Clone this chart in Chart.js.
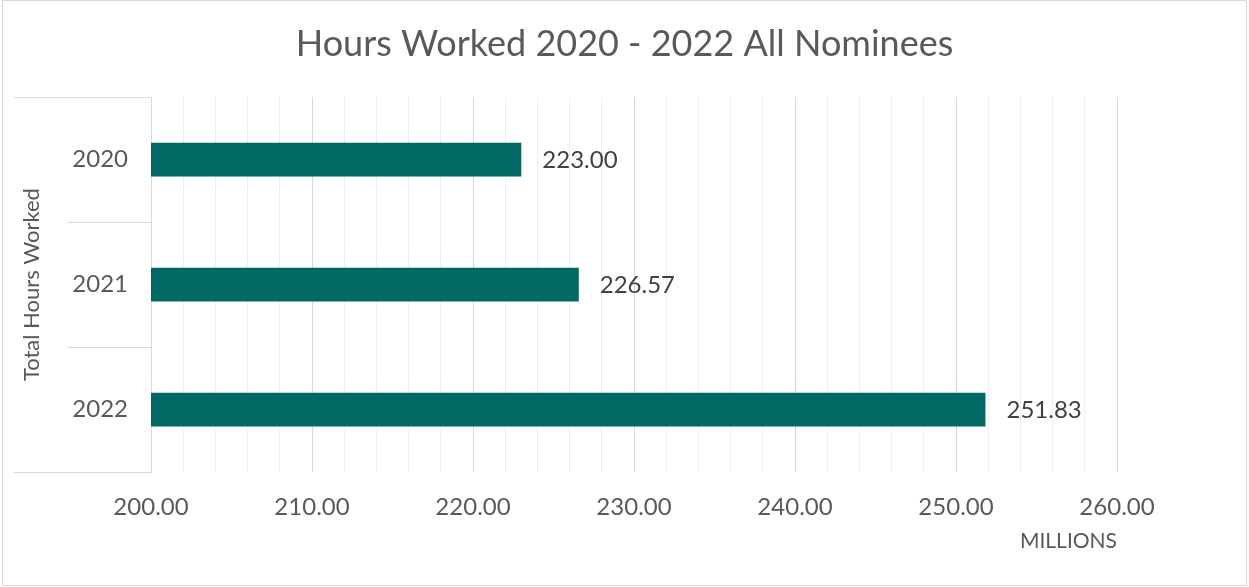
<!DOCTYPE html>
<html>
<head>
<meta charset="utf-8">
<script src="https://cdn.jsdelivr.net/npm/chart.js@4.4.1/dist/chart.umd.min.js"></script>
<style>
  html, body { margin: 0; padding: 0; background: #fff; }
  #wrap { width: 1249px; height: 587px; }
</style>
</head>
<body>
<div id="wrap"><canvas id="chart"></canvas></div>
<script>
// --- data ---
const years = ['2020', '2021', '2022'];
const hoursWorked = [223.00, 226.57, 251.83]; // millions
const xMin = 200;
const xMax = 260;
const xStep = 2;

const FONT = 'Lato, "Open Sans", sans-serif';
const TEXT = '#595959';
const BAR = '#016864';

// value labels to the right of each bar
const valueLabels = {
  id: 'valueLabels',
  afterDatasetsDraw(chart) {
    const ctx = chart.ctx;
    const meta = chart.getDatasetMeta(0);
    ctx.save();
    ctx.font = '24px ' + FONT;
    ctx.fillStyle = '#404040';
    ctx.textAlign = 'left';
    ctx.textBaseline = 'middle';
    meta.data.forEach((bar, i) => {
      ctx.fillText(hoursWorked[i].toFixed(2), bar.x + 21, bar.y + 1);
    });
    ctx.restore();
  }
};

// category box lines on the left and outer frame
const frame = {
  id: 'frame',
  afterDraw(chart) {
    const ctx = chart.ctx;
    const area = chart.chartArea;
    const y = chart.scales.y;
    ctx.save();
    ctx.strokeStyle = '#d9d9d9';
    ctx.lineWidth = 1;
    ctx.beginPath();
    // top and bottom of label box
    ctx.moveTo(14, area.top + 0.5); ctx.lineTo(area.left, area.top + 0.5);
    ctx.moveTo(14, area.bottom + 0.5); ctx.lineTo(area.left, area.bottom + 0.5);
    // separators between categories
    for (let i = 1; i < years.length; i++) {
      const py = Math.round((y.getPixelForValue(i - 1) + y.getPixelForValue(i)) / 2) + 0.5;
      ctx.moveTo(68, py); ctx.lineTo(area.left, py);
    }
    ctx.stroke();
    // outer chart border
    ctx.strokeRect(2.5, 0.5, 1244, 585);
    ctx.restore();
  }
};

new Chart(document.getElementById('chart'), {
  type: 'bar',
  data: {
    labels: years,
    datasets: [{
      data: hoursWorked,
      backgroundColor: BAR,
      borderWidth: 0,
      barPercentage: 0.27,
      categoryPercentage: 1.0
    }]
  },
  options: {
    indexAxis: 'y',
    responsive: true,
    maintainAspectRatio: false,
    animation: false,
    layout: { padding: 0 },
    plugins: {
      legend: { display: false },
      tooltip: { enabled: false },
      title: {
        display: true,
        text: 'Hours Worked 2020 - 2022 All Nominees',
        color: TEXT,
        font: { family: FONT, size: 36, weight: 'normal' },
        padding: { top: 23, bottom: 31 }
      }
    },
    scales: {
      x: {
        type: 'linear',
        min: xMin,
        max: xMax,
        afterFit(scale) { scale.height = 115; },
        ticks: {
          stepSize: xStep,
          autoSkip: false,
          maxRotation: 0,
          padding: 21,
          color: TEXT,
          font: { family: FONT, size: 24 },
          callback: v => (v % 10 === 0 ? v.toFixed(2) : '')
        },
        grid: {
          drawTicks: false,
          color: ctx => (ctx.tick && ctx.tick.value % 10 === 0 ? '#d9d9d9' : '#efefef')
        },
        border: { display: false },
        title: {
          display: true,
          text: 'MILLIONS',
          align: 'end',
          color: TEXT,
          font: { family: FONT, size: 21 },
          padding: { top: 0, bottom: 33 }
        }
      },
      y: {
        afterFit(scale) { scale.width = 151; },
        ticks: {
          padding: 23,
          color: TEXT,
          font: { family: FONT, size: 24 }
        },
        grid: { display: true, drawOnChartArea: false, drawTicks: false },
        border: { display: true, color: '#d9d9d9' },
        title: {
          display: true,
          text: 'Total Hours Worked',
          color: TEXT,
          font: { family: FONT, size: 22 },
          padding: { top: 19, bottom: 0 }
        }
      },
      // empty right-hand axis that only reserves the blank margin
      yRight: {
        position: 'right',
        afterFit(scale) { scale.width = 132; },
        ticks: { display: false },
        grid: { display: false },
        border: { display: false }
      }
    }
  },
  plugins: [valueLabels, frame]
});
</script>
</body>
</html>
